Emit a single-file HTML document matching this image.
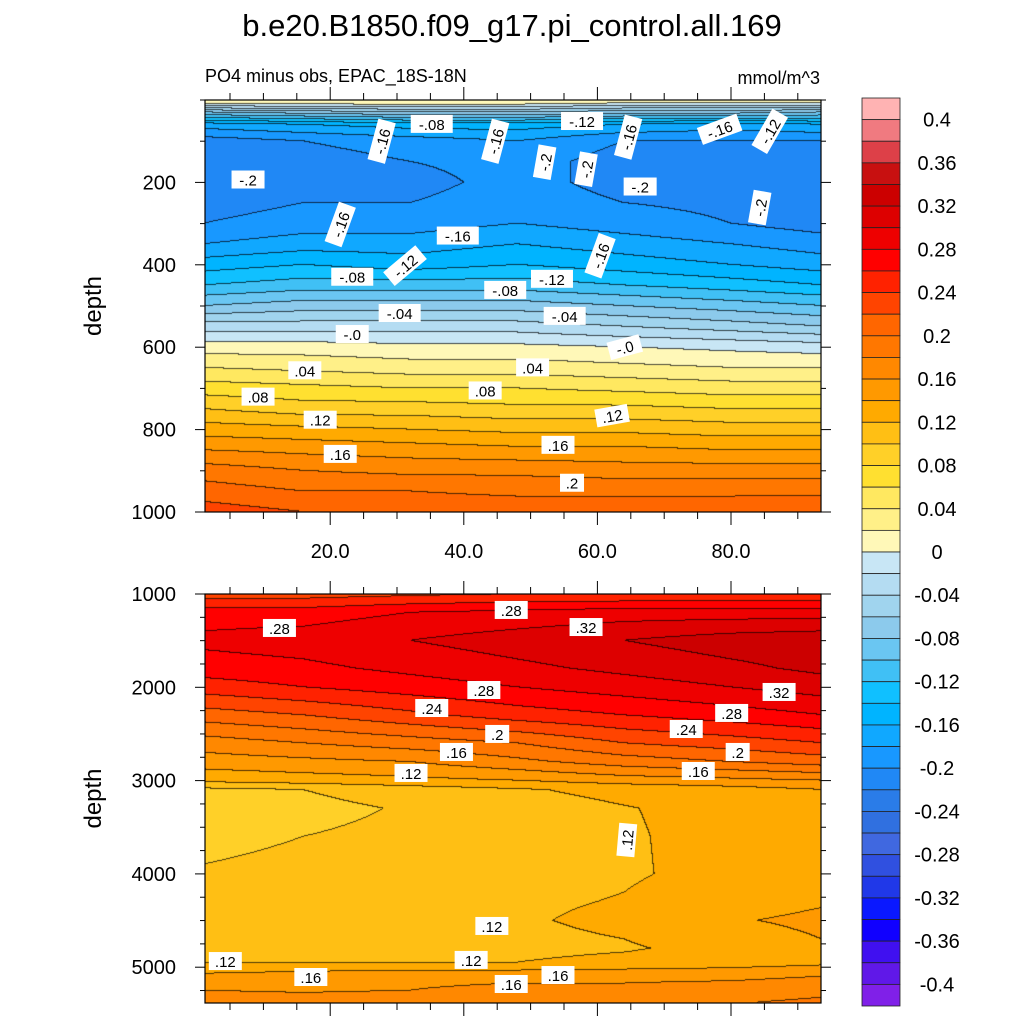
<!DOCTYPE html>
<html><head><meta charset="utf-8"><style>
html,body{margin:0;padding:0;background:#fff;}
#wrap{position:relative;width:1024px;height:1024px;overflow:hidden;}
canvas{position:absolute;}
svg{position:absolute;left:0;top:0;}
text{font-family:"Liberation Sans",sans-serif;fill:#000;}
</style></head><body>
<div id="wrap">
<canvas id="ctop" width="616" height="412" style="left:205px;top:100px"></canvas>
<canvas id="cbot" width="616" height="409" style="left:205px;top:594px"></canvas>
<svg id="svg" width="1024" height="1024"></svg>
</div>
<script>
// ---- data ----
const lonCols = [1, 16, 32, 48, 64, 80, 94];
const topDepths = [0, 8, 30, 60, 100, 150, 200, 300, 350, 400, 450, 500, 550, 600, 650, 700, 750, 800, 850, 900, 950, 1000];
const topValues = [
 [0.02,0.02,0.02,0.02,0.02,0.02,0.02],
 [0.01,0.01,0.01,0.01,0.0,0.0,0.0],
 [-0.08,-0.07,-0.06,-0.06,-0.07,-0.07,-0.08],
 [-0.17,-0.16,-0.15,-0.15,-0.16,-0.17,-0.16],
 [-0.21,-0.2,-0.19,-0.18,-0.2,-0.2,-0.2],
 [-0.22,-0.21,-0.2,-0.19,-0.21,-0.21,-0.21],
 [-0.22,-0.21,-0.21,-0.19,-0.21,-0.21,-0.22],
 [-0.2,-0.19,-0.19,-0.18,-0.19,-0.2,-0.21],
 [-0.18,-0.17,-0.17,-0.16,-0.17,-0.18,-0.19],
 [-0.15,-0.14,-0.15,-0.14,-0.15,-0.16,-0.17],
 [-0.12,-0.11,-0.11,-0.11,-0.12,-0.13,-0.14],
 [-0.08,-0.07,-0.07,-0.07,-0.08,-0.09,-0.1],
 [-0.03,-0.03,-0.03,-0.03,-0.04,-0.05,-0.06],
 [0.01,0.01,0.005,0.005,0.0,-0.005,-0.01],
 [0.04,0.035,0.03,0.03,0.025,0.02,0.02],
 [0.07,0.065,0.06,0.06,0.055,0.05,0.05],
 [0.1,0.09,0.09,0.085,0.085,0.08,0.08],
 [0.13,0.125,0.12,0.115,0.115,0.11,0.11],
 [0.16,0.155,0.15,0.145,0.145,0.14,0.14],
 [0.19,0.18,0.175,0.175,0.17,0.17,0.17],
 [0.21,0.2,0.2,0.195,0.195,0.195,0.195],
 [0.23,0.22,0.215,0.215,0.215,0.215,0.22]
];
const botDepths = [1000,1200,1500,1800,2000,2300,2600,2800,3000,3100,3300,3600,4000,4300,4500,4800,4950,5100,5250,5400];
const botValues = [
 [0.23,0.23,0.235,0.24,0.24,0.24,0.24],
 [0.27,0.27,0.28,0.285,0.29,0.29,0.29],
 [0.285,0.29,0.3,0.31,0.32,0.33,0.335],
 [0.27,0.275,0.285,0.295,0.305,0.315,0.325],
 [0.25,0.26,0.27,0.28,0.29,0.3,0.31],
 [0.21,0.22,0.235,0.25,0.26,0.27,0.28],
 [0.17,0.18,0.19,0.2,0.22,0.23,0.24],
 [0.15,0.155,0.16,0.175,0.19,0.2,0.21],
 [0.125,0.13,0.135,0.14,0.15,0.155,0.16],
 [0.095,0.1,0.11,0.118,0.125,0.132,0.14],
 [0.088,0.094,0.102,0.112,0.119,0.126,0.132],
 [0.094,0.1,0.105,0.112,0.118,0.126,0.13],
 [0.102,0.106,0.11,0.114,0.118,0.125,0.13],
 [0.113,0.114,0.115,0.117,0.121,0.13,0.138],
 [0.115,0.115,0.116,0.118,0.124,0.138,0.145],
 [0.115,0.115,0.115,0.115,0.118,0.126,0.138],
 [0.12,0.12,0.12,0.12,0.125,0.13,0.135],
 [0.145,0.15,0.155,0.155,0.155,0.155,0.16],
 [0.16,0.158,0.16,0.165,0.165,0.17,0.175],
 [0.17,0.17,0.17,0.175,0.175,0.18,0.185]
];
const levelColors = ["#ffb3b3","#f07a80","#dd4048","#c81010","#cc0000","#dd0000","#ee0000","#ff0000","#ff2200","#ff4400","#ff6600","#ff7700","#ff8800","#ff9900","#ffaa00","#ffbf14","#ffd028","#ffe030","#ffe860","#fff088","#fff8b8",
 "#c8e6f5","#b4dcf2","#a0d4ee","#8ccaec","#6ac6f2","#40c0f5","#10c0ff","#00b4ff","#10a8ff","#1898ff","#2088f5","#2a7ce8","#3070e0","#4068e0","#3050e0","#2038e8","#0a18ff","#1000ff","#4010f0","#6018e8","#8020e8"];
const cbarLabels = ["0.4","0.36","0.32","0.28","0.24","0.2","0.16","0.12","0.08","0.04","0","-0.04","-0.08","-0.12","-0.16","-0.2","-0.24","-0.28","-0.32","-0.36","-0.4"];
const xTickLabels = [20, 40, 60, 80];
const topYTicks = [200, 400, 600, 800, 1000];
const botYTicks = [1000, 2000, 3000, 4000, 5000];
const topLabelText = ["-.2","-.16","-.08","-.16","-.12","-.16","-.16","-.12","-.2","-.2","-.2","-.2","-.16","-.16","-.16","-.08","-.12","-.08","-.12","-.04","-.04","-.0","-.0",".04",".04",".08",".08",".12",".12",".16",".16",".2"];
const topLabelLon = [7.7,27.7,35.2,44.7,57.7,64.6,78.3,85.8,52.1,58.3,66.4,84.3,21.5,39.1,60.4,23.3,31.2,46.2,53.2,30.4,55.1,23.3,64.1,16.2,50.3,9.2,43.2,18.5,62.2,21.5,54.1,56.2];
const topLabelDepth = [193,100,58,100,51,90,71,76,151,168,210,261,302,329,378,429,402,461,434,517,524,568,600,656,649,720,705,776,766,859,837,929];
const topLabelRot = [0,-75,0,-75,0,-75,-20,-60,-80,-80,0,-80,-70,0,-70,0,-40,0,0,0,0,0,-15,0,0,0,0,0,-10,0,0,0];
const botLabelText = [".28",".28",".32",".28",".32",".24",".28",".24",".2",".2",".16",".12",".16",".12",".12",".12",".12",".16",".16",".16"];
const botLabelLon = [12.4,47.1,58.3,43.0,87.2,35.2,80.1,73.3,45,81,38.9,32.1,75.1,64.4,44.2,4.3,41.1,17.1,47.1,54.1];
const botLabelDepth = [1364,1171,1354,2029,2050,2222,2275,2447,2500,2693,2693,2918,2897,3637,4558,4934,4922,5105,5180,5084];
const botLabelRot = [0,0,0,0,0,0,0,0,0,0,0,0,0,-85,0,0,0,0,0,0];

// ---- axes ----
const X0 = 205, X1 = 821;
const xScale = lon => 196.6 + 6.68 * lon;
const yTop = d => 100 + 0.412 * d;
const yBot = d => 594 + (d - 1000) * 0.0933;
const invX = px => (px - 196.6) / 6.68;
const levelIndex = v => Math.max(0, Math.min(41, Math.floor((0.4 - v) / 0.02) + 1));

function bracket(arr, v){
  if (v <= arr[0]) return [0, 0, 0];
  for (let i = 0; i < arr.length - 1; i++) if (v <= arr[i+1]) return [i, i+1, (v - arr[i]) / (arr[i+1] - arr[i])];
  const n = arr.length - 1; return [n, n, 0];
}
function sample(depths, vals, lon, d){
  const [i0,i1,ty] = bracket(depths, d), [j0,j1,tx] = bracket(lonCols, lon);
  const a = vals[i0][j0]*(1-tx) + vals[i0][j1]*tx;
  const b = vals[i1][j0]*(1-tx) + vals[i1][j1]*tx;
  return a*(1-ty) + b*ty;
}
function hex(c){return [parseInt(c.slice(1,3),16),parseInt(c.slice(3,5),16),parseInt(c.slice(5,7),16)];}
const rgb = levelColors.map(hex);
function drawField(id, depths, vals, invY, top){
  const cv = document.getElementById(id), ctx = cv.getContext('2d');
  const W = cv.width, H = cv.height, img = ctx.createImageData(W, H);
  const idx = new Int16Array(W*H);
  for (let y=0;y<H;y++){ const d = invY(top + y + 0.5);
    for (let x=0;x<W;x++){ idx[y*W+x] = levelIndex(sample(depths, vals, invX(X0 + x + 0.5), d)); } }
  for (let y=0;y<H;y++) for (let x=0;x<W;x++){
    const k = y*W+x; let c = rgb[idx[k]];
    const edge = (x<W-1 && idx[k]!==idx[k+1]) || (y<H-1 && idx[k]!==idx[k+W]);
    const f = edge ? 0.3 : 1;
    img.data[k*4]=c[0]*f; img.data[k*4+1]=c[1]*f; img.data[k*4+2]=c[2]*f; img.data[k*4+3]=255; }
  ctx.putImageData(img,0,0);
}
drawField('ctop', topDepths, topValues, py => (py - 100) / 0.412, 100);
drawField('cbot', botDepths, botValues, py => 1000 + (py - 594) / 0.0933, 594);

// ---- svg overlay ----
const NS = "http://www.w3.org/2000/svg", svg = document.getElementById('svg');
function el(tag, attrs, txt){ const e = document.createElementNS(NS, tag); for (const k in attrs) e.setAttribute(k, attrs[k]); if (txt!==undefined) e.textContent = txt; svg.appendChild(e); return e; }
function line(x1,y1,x2,y2,w){ return el('line',{x1,y1,x2,y2,stroke:'#000','stroke-width':w||1}); }

let t = el('text',{x:512,y:36,'font-size':31,'text-anchor':'middle'},'b.e20.B1850.f09_g17.pi_control.all.169');
 
t = el('text',{x:205,y:82,'font-size':18},'PO4 minus obs, EPAC_18S-18N');
 
t = el('text',{x:820,y:84,'font-size':18,'text-anchor':'end'},'mmol/m^3');
 

function panel(name, yT, yB, yFn, yTicks, minorStep, dMin, dMax, showX){
  const r = el('rect',{x:X0,y:yT,width:X1-X0,height:yB-yT,fill:'none',stroke:'#000','stroke-width':1.2});
   
  for (let d = dMin; d <= dMax; d += minorStep){ const y = yFn(d); if (y<yT-0.5||y>yB+0.5) continue;
    const major = yTicks.includes(d);
    line(X0-(major?10:5), y, X0, y); line(X1, y, X1+(major?10:5), y); }
  yTicks.forEach(d => { const tt = el('text',{x:176,y:yFn(d)+7,'font-size':20,'text-anchor':'end'}, String(d));
      });
  for (let lon = 5; lon <= 90; lon += 5){ const x = xScale(lon); const major = lon % 20 === 0;
    const L = major ? 13 : 7;
    line(x, yB, x, yB+L); line(x, yT, x, yT-L); }
  if (showX) xTickLabels.forEach(v => { const tt = el('text',{x:xScale(v),y:yB+46,'font-size':20,'text-anchor':'middle'}, v.toFixed(1));
      });
  const yl = el('text',{x:0,y:0,'font-size':24,'text-anchor':'middle',transform:`translate(101,${(yT+yB)/2}) rotate(-90)`},'depth');
   
}
panel('upper-panel', 100, 512, yTop, topYTicks, 100, 0, 1000, true);
panel('lower-panel', 594, 1003, yBot, botYTicks, 250, 1000, 5500, false);

function labels(texts, lons, depths, rots, yFn, name){
  texts.forEach((s,i) => {
    const g = el('g',{transform:`translate(${xScale(lons[i])},${yFn(depths[i])}) rotate(${rots[i]})`});
     
    const w = s.length * 9 + 6;
    const r = document.createElementNS(NS,'rect'); r.setAttribute('x',-w/2); r.setAttribute('y',-9); r.setAttribute('width',w); r.setAttribute('height',18); r.setAttribute('fill','#fff');
    g.appendChild(r);
    const tx = document.createElementNS(NS,'text'); tx.setAttribute('x',0); tx.setAttribute('y',6); tx.setAttribute('font-size',15); tx.setAttribute('text-anchor','middle'); tx.textContent = s;
    g.appendChild(tx);
  });
}
labels(topLabelText, topLabelLon, topLabelDepth, topLabelRot, yTop, 'upper-contour-label');
labels(botLabelText, botLabelLon, botLabelDepth, botLabelRot, yBot, 'lower-contour-label');

// colorbar
const CB_X = 862, CB_W = 38, CB_T = 98, CB_H = 908 / 42;
levelColors.forEach((c,i) => {
  const r = el('rect',{x:CB_X,y:CB_T+i*CB_H,width:CB_W,height:CB_H,fill:c,stroke:'#222','stroke-width':0.8});
   
});
cbarLabels.forEach((s,i) => {
  const tt = el('text',{x:937,y:CB_T+(2*i+1)*CB_H+7,'font-size':20,'text-anchor':'middle'}, s);
   
});
</script>
</body></html>
